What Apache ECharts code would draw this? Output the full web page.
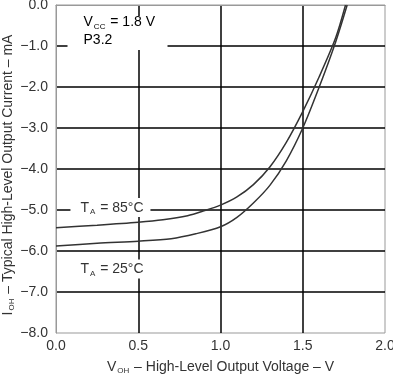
<!DOCTYPE html>
<html><head><meta charset="utf-8">
<script src="https://cdn.jsdelivr.net/npm/echarts@6/dist/echarts.min.js"></script>
<style>html,body{margin:0;padding:0;background:#fff}#c{width:393px;height:375px}</style>
</head><body><div id="c"></div>
<script>
// Data
const volts85 = [0, 0.25, 0.5, 0.65, 0.8, 0.9, 1.0, 1.1, 1.2, 1.3, 1.4, 1.5, 1.6, 1.7, 1.76];
const curr85  = [-5.43, -5.37, -5.30, -5.24, -5.14, -5.02, -4.88, -4.68, -4.38, -3.95, -3.35, -2.6, -1.75, -0.8, 0];
const volts25 = [0, 0.25, 0.5, 0.7, 0.85, 1.0, 1.1, 1.2, 1.3, 1.4, 1.5, 1.6, 1.7, 1.77];
const curr25  = [-5.88, -5.81, -5.76, -5.70, -5.58, -5.41, -5.18, -4.83, -4.4, -3.8, -3.0, -2.0, -0.9, 0];
const xTicks = [0, 0.5, 1.0, 1.5, 2.0];
const yTicks = [-8, -7, -6, -5, -4, -3, -2, -1, 0];

const FONT = 'Liberation Sans, Arial, sans-serif';
const TXT = '#333';
const chart = echarts.init(document.getElementById('c'), null, {renderer: 'canvas'});
const sub = {
  a: {fontSize: 14, fontFamily: FONT, color: TXT, lineHeight: 16},
  s: {fontSize: 8, fontFamily: FONT, color: TXT, verticalAlign: 'bottom', lineHeight: 8, padding: [0, 1, 0, 1]}
};
chart.setOption({
  animation: false,
  grid: {left: 56, right: 8, top: 5, bottom: 42, show: true, borderColor: '#999', borderWidth: 1,
         containLabel: false, outerBoundsMode: 'none'},
  xAxis: {
    type: 'value', min: xTicks[0], max: xTicks[xTicks.length - 1], interval: 0.5,
    axisLine: {show: true, lineStyle: {color: '#999', width: 1}},
    axisTick: {show: false},
    splitLine: {show: true, showMinLine: false, showMaxLine: false, lineStyle: {color: '#000', width: 1.5}},
    axisLabel: {fontSize: 14, fontFamily: FONT, color: TXT, margin: 6, formatter: v => v.toFixed(1)},
    name: '{a|V}{s|OH}{a| – High-Level Output Voltage – V}',
    nameLocation: 'middle', nameGap: 26, nameMoveOverlap: false,
    nameTextStyle: {rich: sub}
  },
  yAxis: {
    type: 'value', min: yTicks[0], max: yTicks[yTicks.length - 1], interval: 1,
    axisLine: {show: true, lineStyle: {color: '#999', width: 1}},
    axisTick: {show: false},
    splitLine: {show: true, showMinLine: false, showMaxLine: false, lineStyle: {color: '#000', width: 1.5}},
    axisLabel: {fontSize: 14, fontFamily: FONT, color: TXT, margin: 8, formatter: v => v.toFixed(1).replace('-', '−')},
    name: '{a|I}{s|OH}{a| – Typical High-Level Output Current – mA}',
    nameLocation: 'middle', nameGap: 40, nameMoveOverlap: false,
    nameTextStyle: {rich: sub, padding: [0, 12, 0, 0]}
  },
  series: [
    {type: 'line', name: '85', data: volts85.map((v, i) => [v, curr85[i]]), showSymbol: false, smooth: 0.3,
     lineStyle: {color: '#333', width: 1.5}, z: 5},
    {type: 'line', name: '25', data: volts25.map((v, i) => [v, curr25[i]]), showSymbol: false, smooth: 0.3,
     lineStyle: {color: '#333', width: 1.5}, z: 5}
  ]
});
function px(x, y) { return chart.convertToPixel({gridIndex: 0}, [x, y]); }
const p1 = px(0.07, -0.27), p2 = px(0.1, -4.95), p3 = px(0.1, -6.45);
function box(p, w, h) { return {type: 'rect', shape: {x: p[0], y: p[1], width: w, height: h}, style: {fill: '#fff'}, z: 10}; }
function label(p, str) { return {type: 'text', x: p[0], y: p[1], style: {text: str, rich: sub, fill: TXT}, z: 11}; }
chart.setOption({graphic: [
  box([p1[0], p1[1]], 100, 34),
  {type: 'text', x: p1[0] + 16, y: p1[1] - 3, z: 11, style: {text: '{a|V}{s|CC}{a| = 1.8 V}\n{a|P3.2}',
    rich: {a: {fontSize: 14, fontFamily: FONT, color: TXT, lineHeight: 18}, s: {fontSize: 8, fontFamily: FONT, color: TXT, verticalAlign: 'bottom', lineHeight: 9, padding: [0, 1, 0, 1]}}}},
  box([p2[0] - 2, p2[1] - 10], 80, 19),
  label([p2[0] + 8, p2[1] - 8], '{a|T}{s|A}{a| = 85°C}'),
  box([p3[0] - 2, p3[1] - 10], 80, 19),
  label([p3[0] + 8, p3[1] - 8], '{a|T}{s|A}{a| = 25°C}')
]});
</script></body></html>
